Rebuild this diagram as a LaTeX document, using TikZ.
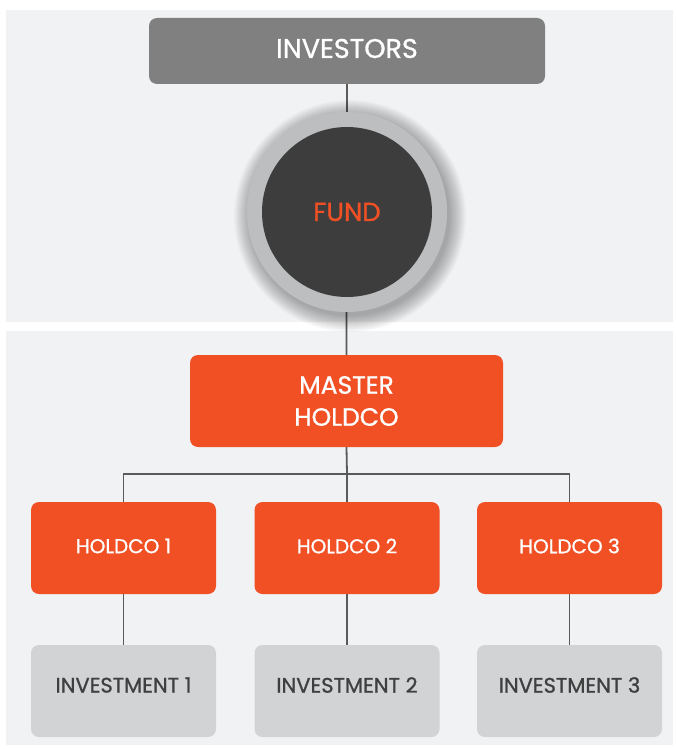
\documentclass[tikz,border=0pt]{standalone}
\usepackage{fontspec}
\setmainfont{Poppins}[FakeBold=1]
\usetikzlibrary{calc}
\definecolor{panel}{HTML}{F1F2F4}
\definecolor{invgray}{HTML}{7F807F}
\definecolor{orng}{HTML}{F15025}
\definecolor{darkc}{HTML}{3D3D3D}
\definecolor{ringc}{HTML}{BCBEC0}
\definecolor{lightbox}{HTML}{D1D3D4}
\definecolor{txtdark}{HTML}{3F3F3F}
\definecolor{linec}{HTML}{5A5A5A}
\begin{document}
\begin{tikzpicture}[x=1pt,y=-1pt,
  box/.style={rounded corners=8pt, minimum width=185pt, minimum height=92pt, inner sep=0pt, align=center},
  hbox/.style={box, fill=orng},
  ibox/.style={box, fill=lightbox},
  hlbl/.style={text=white, font=\fontsize{20}{22}\selectfont, inner sep=0pt},
  ilbl/.style={text=txtdark, font=\fontsize{21}{22}\selectfont, inner sep=0pt},
  conn/.style={draw=linec, line width=1.8pt}]
\useasboundingbox (0,0) rectangle (675,749);
\fill[white] (0,0) rectangle (675,749);
\fill[panel] (6,10) rectangle (673,322);
\fill[panel] (6,331) rectangle (673,745);
% nodes
\node[box, fill=invgray, minimum width=396pt, minimum height=66pt,
  label={[text=white, font=\fontsize{27}{28}\selectfont, inner sep=0pt, yshift=2.5pt]center:INVESTORS}] (inv) at (347,51) {};
\coordinate (fc) at (347,212);
\node[box, fill=orng, minimum width=313pt, minimum height=92pt,
  label={[text=white, font=\fontsize{25}{32}\selectfont, align=center, inner sep=0pt]center:MASTER\\HOLDCO}] (mh) at (346.5,401) {};
\node[hbox, label={[hlbl, yshift=2pt]center:HOLDCO 1}] (h1) at (123.5,548) {};
\node[hbox, label={[hlbl, yshift=2pt]center:HOLDCO 2}] (h2) at (347,548) {};
\node[hbox, label={[hlbl, yshift=2pt]center:HOLDCO 3}] (h3) at (569.5,548) {};
\node[ibox, label={[ilbl, yshift=6pt]center:INVESTMENT 1}] (i1) at (123.5,691) {};
\node[ibox, label={[ilbl, yshift=6pt]center:INVESTMENT 2}] (i2) at (347,691) {};
\node[ibox, label={[ilbl, yshift=6pt]center:INVESTMENT 3}] (i3) at (569.5,691) {};
% connectors
\draw[conn] (inv.south) -- (mh.north);
\coordinate (bl) at (123.5,474);
\coordinate (br) at (569.5,474);
\coordinate (bm) at (347,474);
\draw[conn] (mh.south) -- (bm);
\draw[conn] (h1.north) -- (bl) -- (br) -- (h3.north);
\draw[conn] (bm) -- (h2.north);
\draw[conn] (h1.south) -- (i1.north);
\draw[conn] (h2.south) -- (i2.north);
\draw[conn] (h3.south) -- (i3.north);
% shadow
\foreach \r in {100,101,...,116}
  \fill[black, opacity=0.018] ($(fc)+(3,4)$) circle (\r pt);
\node[circle, fill=ringc, minimum size=200pt, inner sep=0pt] (ring) at (fc) {};
\node[circle, fill=darkc, minimum size=170pt, inner sep=0pt, text=orng, font=\fontsize{26}{28}\selectfont] (fund) at (fc) {FUND};
\end{tikzpicture}
\end{document}
